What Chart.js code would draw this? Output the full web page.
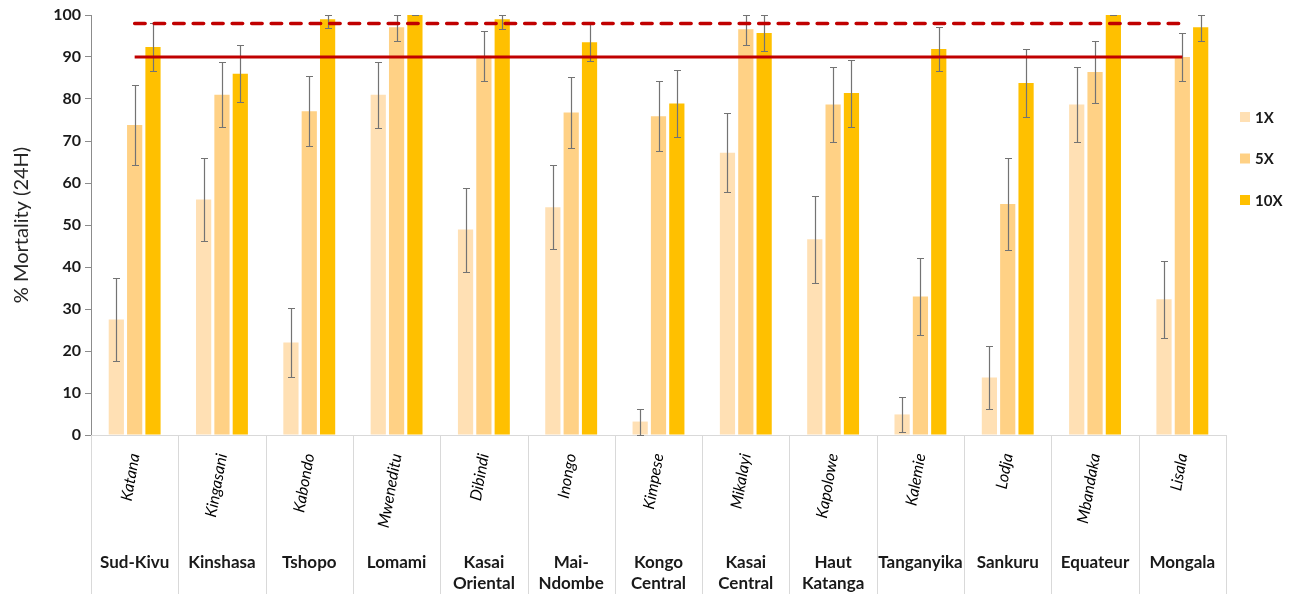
<!DOCTYPE html>
<html>
<head>
<meta charset="utf-8">
<script src="https://cdn.jsdelivr.net/npm/chart.js@4.4.1/dist/chart.umd.min.js"></script>
<style>
  html, body { margin: 0; padding: 0; background: #ffffff; }
  #wrap { width: 1296px; height: 594px; position: relative; }
</style>
</head>
<body>
<div id="wrap"><canvas id="c"></canvas></div>
<script>
// Provinces (lower label row) and sentinel sites (upper, rotated label row)
const provinces = ['Sud-Kivu', 'Kinshasa', 'Tshopo', 'Lomami', ['Kasai', 'Oriental'], ['Mai-', 'Ndombe'],
  ['Kongo', 'Central'], ['Kasai', 'Central'], ['Haut', 'Katanga'], 'Tanganyika', 'Sankuru', 'Equateur', 'Mongala'];
const sites = ['Katana', 'Kingasani', 'Kabondo', 'Mweneditu', 'Dibindi', 'Inongo', 'Kimpese',
  'Mikalayi', 'Kapolowe', 'Kalemie', 'Lodja', 'Mbandaka', 'Lisala'];

// Series names (insecticide concentration)
const seriesNames = ['1X', '5X', '10X'];

// Mean 24h mortality (%) per site, and half-width of the error bars
const mortality1x = [27.5, 56.1, 22.0, 81.0, 48.9, 54.2, 3.2, 67.2, 46.6, 4.9, 13.7, 78.7, 32.3];
const error1x     = [9.8, 9.8, 8.2, 7.8, 10.0, 10.0, 3.1, 9.4, 10.3, 4.2, 7.6, 9.0, 9.2];
const mortality5x = [73.8, 81.0, 77.1, 97.1, 90.3, 76.8, 75.9, 96.6, 78.7, 33.0, 55.0, 86.4, 90.0];
const error5x     = [9.6, 7.7, 8.3, 3.4, 6.0, 8.5, 8.4, 3.7, 9.0, 9.2, 11.0, 7.4, 5.8];
const mortality10x = [92.4, 86.0, 99.0, 100, 99.0, 93.5, 78.9, 95.7, 81.4, 91.9, 83.8, 100, 97.1];
const error10x     = [5.8, 6.8, 2.0, 0, 2.3, 4.4, 7.9, 4.2, 8.0, 5.3, 8.0, 0, 3.4];

// Reference mortality thresholds (%)
const thresholdSolid = 90;
const thresholdDashed = 98;

// Value axis
const yMin = 0;
const yMax = 100;
const yStep = 10;

const barColors = ['#FFE0B4', '#FFD185', '#FFC000'];
const FONT = 'Lato, "Open Sans", sans-serif';

// Error bars drawn right after each bar dataset (so the threshold lines stay on top)
const errorBarPlugin = {
  id: 'errorBars',
  afterDatasetDraw(chart, args) {
    const ds = chart.data.datasets[args.index];
    if (!ds.errors) return;
    const y = chart.scales.y;
    const ctx = chart.ctx;
    ctx.save();
    ctx.strokeStyle = '#737373';
    ctx.lineWidth = 1.2;
    args.meta.data.forEach((bar, i) => {
      const v = ds.data[i], e = ds.errors[i];
      const hi = Math.round(y.getPixelForValue(Math.min(yMax, v + e))) + 0.5;
      const lo = Math.round(y.getPixelForValue(Math.max(yMin, v - e))) + 0.5;
      const x = Math.round(bar.x) + 0.5;
      ctx.beginPath();
      ctx.moveTo(x, hi); ctx.lineTo(x, lo);
      ctx.moveTo(x - 3.5, hi); ctx.lineTo(x + 3.5, hi);
      ctx.moveTo(x - 3.5, lo); ctx.lineTo(x + 3.5, lo);
      ctx.stroke();
    });
    ctx.restore();
  }
};

// Category separators below the axis and the series legend on the right
const framePlugin = {
  id: 'frame',
  afterDraw(chart) {
    const ctx = chart.ctx;
    const x = chart.scales.x;
    const area = chart.chartArea;
    ctx.save();
    ctx.strokeStyle = '#d9d9d9';
    ctx.lineWidth = 1;
    for (let i = 0; i <= sites.length; i++) {
      const px = Math.round(x.getPixelForValue(i - 0.5)) + 0.5;
      ctx.beginPath();
      ctx.moveTo(px, area.bottom);
      ctx.lineTo(px, chart.height);
      ctx.stroke();
    }
    // legend
    const bars = chart.data.datasets.filter(d => d.type === 'bar');
    ctx.font = 'bold 15px ' + FONT;
    ctx.textBaseline = 'middle';
    ctx.textAlign = 'left';
    bars.forEach((d, i) => {
      const lx = area.right + 14;
      const ly = area.top + 102 + i * 41.5;
      ctx.fillStyle = d.backgroundColor;
      ctx.fillRect(lx, ly - 5, 10, 10);
      ctx.fillStyle = '#1a1a1a';
      ctx.fillText(d.label, lx + 15, ly + 1);
    });
    ctx.restore();
  }
};

const barDataset = (label, data, errors, color) => ({
  type: 'bar', label, data, errors,
  backgroundColor: color,
  borderWidth: 0,
  barPercentage: 0.83,
  categoryPercentage: 0.63,
  order: 2
});

new Chart(document.getElementById('c'), {
  data: {
    labels: sites,
    datasets: [
      barDataset(seriesNames[0], mortality1x, error1x, barColors[0]),
      barDataset(seriesNames[1], mortality5x, error5x, barColors[1]),
      barDataset(seriesNames[2], mortality10x, error10x, barColors[2]),
      {
        type: 'line', label: thresholdDashed + '%',
        data: sites.map(() => thresholdDashed),
        borderColor: '#C00000', borderWidth: 3.5,
        borderDash: [10.5, 9], borderCapStyle: 'round',
        pointRadius: 0, fill: false, order: 0
      },
      {
        type: 'line', label: thresholdSolid + '%',
        data: sites.map(() => thresholdSolid),
        borderColor: '#C00000', borderWidth: 3,
        pointRadius: 0, fill: false, order: 1
      }
    ]
  },
  options: {
    responsive: true,
    maintainAspectRatio: false,
    animation: false,
    events: [],
    layout: { padding: { top: 15, right: 70, bottom: 0, left: 0 } },
    plugins: { legend: { display: false }, tooltip: { enabled: false } },
    scales: {
      x: {
        type: 'category',
        offset: true,
        grid: { display: false },
        border: { display: true, color: '#d9d9d9', width: 1 },
        ticks: {
          autoSkip: false, maxRotation: 80, minRotation: 80, padding: 9,
          color: '#000000',
          font: { family: FONT, style: 'italic', size: 16 }
        },
        afterFit(scale) { scale.height = 103; }
      },
      x2: {
        type: 'category',
        position: 'bottom',
        labels: provinces,
        offset: true,
        weight: 1,
        grid: { display: false },
        border: { display: false },
        ticks: {
          autoSkip: false, maxRotation: 0, minRotation: 0, padding: 6,
          color: '#1a1a1a',
          font: { family: FONT, weight: 'bold', size: 17, lineHeight: 1.25 }
        },
        afterFit(scale) { scale.height = 56; }
      },
      y: {
        min: yMin, max: yMax,
        grid: { display: true, drawOnChartArea: false, drawTicks: true, tickLength: 6, color: '#8c8c8c' },
        border: { display: true, color: '#8c8c8c', width: 1 },
        ticks: {
          stepSize: yStep, padding: 4, color: '#1a1a1a',
          font: { family: FONT, weight: 'bold', size: 16 }
        },
        title: {
          display: true, text: '% Mortality (24H)', color: '#262626',
          font: { family: FONT, size: 20 }, padding: { top: 10, bottom: 4 }
        },
        afterFit(scale) { scale.width = 91; }
      }
    }
  },
  plugins: [errorBarPlugin, framePlugin]
});
</script>
</body>
</html>
